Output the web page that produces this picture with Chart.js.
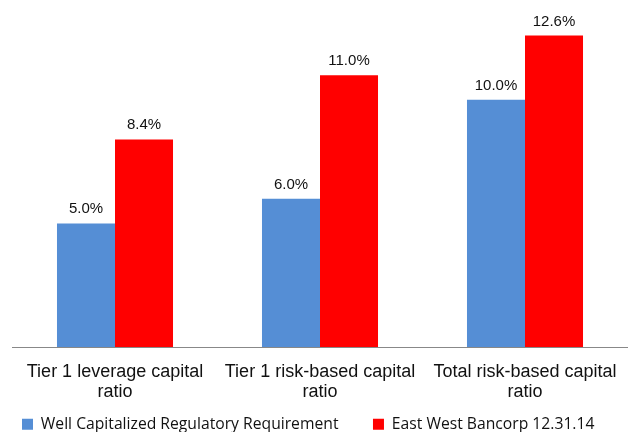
<!DOCTYPE html>
<html>
<head>
<meta charset="utf-8">
<script src="https://cdn.jsdelivr.net/npm/chart.js@4"></script>
<style>
  html, body { margin: 0; padding: 0; background: #fff; }
  #wrap { width: 634px; height: 432px; }
</style>
</head>
<body>
<div id="wrap"><canvas id="capitalChart"></canvas></div>
<script>
const categories = [
  ['Tier 1 leverage capital', 'ratio'],
  ['Tier 1 risk-based capital', 'ratio'],
  ['Total risk-based capital', 'ratio']
];
const wellCapitalized = [5.0, 6.0, 10.0];
const eastWest = [8.4, 11.0, 12.6];

// draws the % labels above each bar
const valueLabels = {
  id: 'valueLabels',
  afterDatasetsDraw(chart) {
    const ctx = chart.ctx;
    ctx.save();
    ctx.font = '15px "Liberation Sans", Arial, sans-serif';
    ctx.fillStyle = '#111';
    ctx.textAlign = 'center';
    ctx.textBaseline = 'alphabetic';
    chart.data.datasets.forEach((ds, i) => {
      chart.getDatasetMeta(i).data.forEach((bar, j) => {
        ctx.fillText(ds.data[j].toFixed(1) + '%', bar.x, bar.y - 10);
      });
    });
    ctx.restore();
  }
};

// legend is squeezed in right under the two-line axis labels, kept on one row
const legendHeight = {
  id: 'legendHeight',
  beforeInit(chart) {
    const fit = chart.legend.fit;
    chart.legend.fit = function () {
      this.maxWidth = 900;
      fit.bind(chart.legend)();
      this.height = 32;
    };
  },
  afterLayout(chart) {
    chart.legend.top -= 18;
    chart.legend.height += 18;
    chart.legend.right = 900;
  }
};

const ctx = document.getElementById('capitalChart');

new Chart(ctx, {
  type: 'bar',
  data: {
    labels: categories,
    datasets: [{
      label: 'Well Capitalized Regulatory Requirement',
      data: wellCapitalized,
      backgroundColor: 'rgb(85, 142, 213)'
    }, {
      label: 'East West Bancorp 12.31.14',
      data: eastWest,
      backgroundColor: 'rgb(255, 0, 0)'
    }]
  },
  options: {
    responsive: true,
    maintainAspectRatio: false,
    animation: false,
    layout: { padding: { left: -12.5, right: 6.5, top: 1, bottom: 0 } },
    datasets: {
      bar: { categoryPercentage: 0.566, barPercentage: 1.0 }
    },
    scales: {
      x: {
        grid: { display: false, drawTicks: false },
        border: { display: true, color: '#888', width: 1 },
        ticks: {
          color: '#111',
          padding: 15.5,
          maxRotation: 0,
          font: { family: '"Liberation Sans", Arial, sans-serif', size: 18, lineHeight: 1.11 }
        },
        afterFit(scale) { scale.height = 53; }
      },
      y: {
        min: 0,
        max: 14,
        grid: { display: false, drawTicks: false },
        border: { display: false },
        ticks: { display: false },
        afterFit(scale) { scale.width = 25; }
      }
    },
    plugins: {
      legend: {
        position: 'bottom',
        align: 'start',
        labels: {
          color: '#111',
          boxWidth: 11,
          boxHeight: 11,
          padding: 34.5,
          font: { family: '"Open Sans", sans-serif', size: 15.7 }
        }
      },
      tooltip: { enabled: false }
    }
  },
  plugins: [valueLabels, legendHeight]
});
</script>
</body>
</html>
